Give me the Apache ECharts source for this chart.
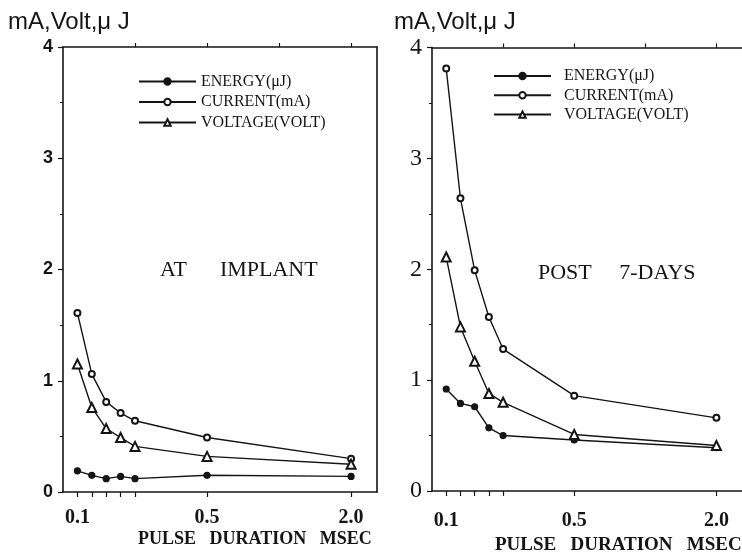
<!DOCTYPE html>
<html>
<head>
<meta charset="utf-8">
<script src="https://cdn.jsdelivr.net/npm/echarts@6/dist/echarts.min.js"></script>
<style>
  html, body { margin: 0; padding: 0; background: #fff; }
  #chart { width: 742px; height: 560px; }
</style>
</head>
<body>
<div id="chart"></div>
<script>
// x = plotting slot of each pulse duration (the original axis is not linear)
const xPos = [1, 2, 3, 4, 5, 10, 20];
const xTickPos = [1, 10, 20];
const xTickLabels = ['0.1', '0.5', '2.0'];
const topTickPos = [5, 10, 15, 20];

const seriesNames = ['ENERGY(μJ)', 'CURRENT(mA)', 'VOLTAGE(VOLT)'];

// AT IMPLANT
const implantEnergy = [0.19, 0.15, 0.12, 0.14, 0.12, 0.15, 0.14];
const implantCurrent = [1.61, 1.06, 0.81, 0.71, 0.64, 0.49, 0.30];
const implantVoltage = [1.15, 0.76, 0.57, 0.49, 0.41, 0.32, 0.25];

// POST 7-DAYS
const postEnergy = [0.92, 0.79, 0.76, 0.57, 0.50, 0.46, 0.39];
const postCurrent = [3.81, 2.64, 1.99, 1.57, 1.28, 0.86, 0.66];
const postVoltage = [2.11, 1.48, 1.17, 0.88, 0.80, 0.51, 0.41];

const INK = '#151515';
const SERIF = '"Liberation Serif", "DejaVu Serif", serif';
const SANS = '"Liberation Sans", Arial, sans-serif';

const chart = echarts.init(document.getElementById('chart'));

function pairs(ys) {
  return xPos.map((x, i) => [x, ys[i]]);
}

function bottomAxis(gridIndex, margin) {
  return {
    type: 'value', gridIndex: gridIndex, position: 'bottom',
    min: 0, max: 21.8,
    axisLine: { show: true, onZero: false, lineStyle: { color: INK, width: 1.6 } },
    axisTick: { show: true, inside: false, length: 5, customValues: xPos, lineStyle: { color: INK, width: 1.2 } },
    axisLabel: {
      show: true, customValues: xTickPos, margin: margin,
      formatter: v => xTickLabels[xTickPos.indexOf(v)] || '',
      color: INK, fontFamily: SERIF, fontWeight: 'bold', fontSize: 20
    },
    splitLine: { show: false }
  };
}

function topAxis(gridIndex) {
  return {
    type: 'value', gridIndex: gridIndex, position: 'top',
    min: 0, max: 21.8,
    axisLine: { show: true, onZero: false, lineStyle: { color: INK, width: 1.6 } },
    axisTick: { show: true, inside: false, length: 4, customValues: topTickPos, lineStyle: { color: INK, width: 1.2 } },
    axisLabel: { show: false },
    splitLine: { show: false }
  };
}

function leftAxis(gridIndex, labelStyle) {
  return {
    type: 'value', gridIndex: gridIndex, position: 'left',
    min: 0, max: 4, interval: 1,
    axisLine: { show: true, onZero: false, lineStyle: { color: INK, width: 1.6 } },
    axisTick: { show: true, inside: false, length: 5, lineStyle: { color: INK, width: 1.2 } },
    minorTick: { show: true, splitNumber: 2, length: 3, lineStyle: { color: INK, width: 1 } },
    axisLabel: Object.assign({ margin: 10, color: INK }, labelStyle),
    splitLine: { show: false }
  };
}

function rightAxis(gridIndex, showLine) {
  return {
    type: 'value', gridIndex: gridIndex, position: 'right',
    min: 0, max: 4, interval: 1,
    axisLine: { show: showLine, onZero: false, lineStyle: { color: INK, width: 1.6 } },
    axisTick: { show: false },
    axisLabel: { show: false },
    splitLine: { show: false }
  };
}

function makeSeries(axisIdx, energy, current, voltage) {
  const base = {
    type: 'line',
    xAxisIndex: axisIdx, yAxisIndex: axisIdx,
    lineStyle: { color: INK, width: 1.4 },
    itemStyle: { color: INK, borderColor: INK, borderWidth: 1.2 },
    z: 3, animation: false
  };
  return [
    Object.assign({}, base, { name: seriesNames[0], symbol: 'circle', symbolSize: 6, data: pairs(energy) }),
    Object.assign({}, base, { name: seriesNames[1], symbol: 'emptyCircle', symbolSize: 6, data: pairs(current) }),
    Object.assign({}, base, { name: seriesNames[2], symbol: 'emptyTriangle', symbolSize: 9, data: pairs(voltage) })
  ];
}

function legend(left, top, gap, pad) {
  return {
    data: seriesNames, orient: 'vertical', left: left, top: top,
    itemWidth: 57, itemHeight: 8, itemGap: gap,
    selectedMode: false,
    textStyle: { color: INK, fontFamily: SERIF, fontSize: 16, lineHeight: 15, padding: [0, 0, 0, pad] }
  };
}

function label(text, x, y, font) {
  return {
    type: 'text', x: x, y: y, silent: true,
    style: { text: text, font: font, fill: INK, textAlign: 'left', textVerticalAlign: 'middle' }
  };
}

chart.setOption({
  backgroundColor: '#fff',
  animation: false,
  grid: [
    { left: 63, top: 47, width: 314, height: 445 },
    { left: 432, top: 47.5, width: 314, height: 443.5 }
  ],
  xAxis: [
    bottomAxis(0, 16), topAxis(0),
    bottomAxis(1, 20), topAxis(1)
  ],
  yAxis: [
    leftAxis(0, { fontFamily: SANS, fontWeight: 'bold', fontSize: 18 }), rightAxis(0, true),
    leftAxis(1, { fontFamily: SERIF, fontSize: 24 }), rightAxis(1, false)
  ],
  legend: [
    legend(133, 68.5, 4.5, 0),
    legend(488, 63, 3.3, 8)
  ],
  series: [].concat(
    makeSeries(0, implantEnergy, implantCurrent, implantVoltage),
    makeSeries(2, postEnergy, postCurrent, postVoltage)
  ),
  graphic: [
    label('mA,Volt,μ J', 8, 22, '24px ' + SANS),
    label('mA,Volt,μ J', 394, 22, '24px ' + SANS),
    label('AT      IMPLANT', 160, 270, '22px ' + SERIF),
    label('POST     7-DAYS', 538, 273, '22px ' + SERIF),
    label('PULSE   DURATION   MSEC', 138, 539, 'bold 18px ' + SERIF),
    label('PULSE   DURATION   MSEC', 495, 545, 'bold 19px ' + SERIF)
  ]
});
</script>
</body>
</html>
